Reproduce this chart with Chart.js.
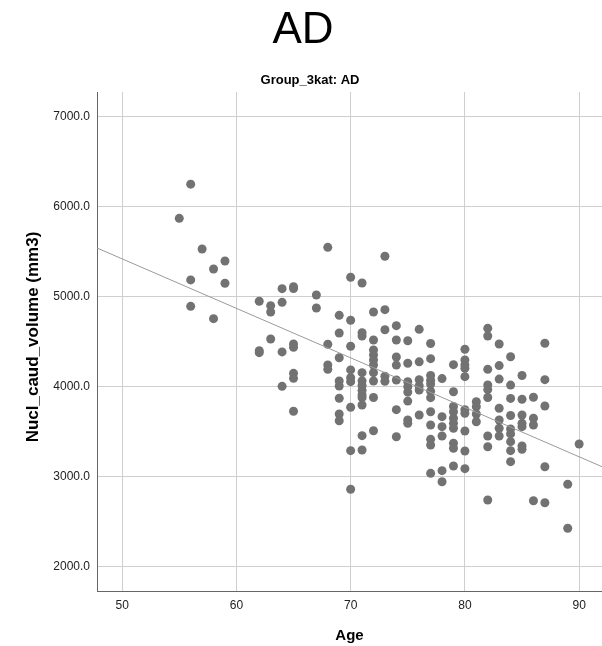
<!DOCTYPE html>
<html>
<head>
<meta charset="utf-8">
<script src="https://cdn.jsdelivr.net/npm/chart.js@4/dist/chart.umd.min.js"></script>
<style>
  html, body { margin: 0; padding: 0; background: #fff; }
  #wrap { position: relative; width: 602px; height: 646px; }
</style>
</head>
<body>
<div id="wrap"><canvas id="scatter"></canvas></div>
<script>
// ages (one entry per column of dots) and the volumes measured at each age
const ageGroups = [55, 56, 57, 58, 59, 62, 63, 64, 65, 67, 68, 69, 70, 71, 72, 73, 74, 75, 76, 77, 78, 79, 80, 81, 82, 83, 84, 85, 86, 87, 89, 90];
const volumeGroups = [
    [5870],
    [6250, 5186, 4893],
    [5530],
    [5308, 4756],
    [5397, 5149],
    [4949, 4400, 4378],
    [4900, 4830, 4530],
    [5089, 4937, 4386, 4004],
    [5110, 5090, 4474, 4437, 4148, 4093, 3727],
    [5019, 4874],
    [5548, 4471, 4241, 4193],
    [4793, 4597, 4322, 4063, 4008, 3871, 3697, 3622],
    [5216, 4738, 4449, 4186, 4100, 4056, 3771, 3289, 2860],
    [5152, 4600, 4563, 4156, 4065, 4013, 3958, 3908, 3878, 3797, 3456, 3297],
    [4830, 4519, 4408, 4352, 4297, 4241, 4156, 4063, 3880, 3511],
    [5449, 4856, 4633, 4116, 4060],
    [4678, 4519, 4330, 4240, 4074, 3745, 3444],
    [4510, 4260, 4056, 4000, 3940, 3840, 3630, 3593],
    [4637, 4276, 4078, 4010, 3963, 3686],
    [4480, 4311, 4125, 4072, 4030, 3950, 3878, 3722, 3574, 3415, 3352, 3037],
    [4090, 3667, 3556, 3452, 3067, 2944],
    [4245, 3944, 3780, 3722, 3649, 3593, 3538, 3371, 3316, 3119],
    [4416, 4297, 4241, 4204, 4111, 3745, 3704, 3508, 3286, 3089],
    [3833, 3778, 3697, 3611],
    [4648, 4563, 4193, 4020, 3968, 3880, 3452, 3333, 2741],
    [4474, 4234, 4084, 3760, 3630, 3538, 3452],
    [4333, 4018, 3870, 3680, 3530, 3475, 3389, 3289, 3167],
    [4124, 3860, 3686, 3593, 3556, 3341, 3304],
    [3882, 3649, 3574, 2733],
    [4482, 4078, 3785, 3111, 2711],
    [2916, 2427],
    [3363]
];

// linear fit line, ends at the axis limits
const fitAge = [47.8, 92.0];
const fitVolume = [5541, 3111];

const xTicks = [50, 60, 70, 80, 90];
const yTicks = [2000, 3000, 4000, 5000, 6000, 7000];

const points = [];
ageGroups.forEach((age, i) => {
    volumeGroups[i].forEach(v => points.push({ x: age, y: v }));
});
const fitPoints = fitAge.map((a, i) => ({ x: a, y: fitVolume[i] }));

const FONT = "'Liberation Sans', Arial, sans-serif";

// headings and axis titles
const textPlugin = {
    id: "labels",
    afterDraw(chart) {
        const ctx = chart.ctx;
        const area = chart.chartArea;
        ctx.save();
        ctx.fillStyle = "#000";
        ctx.textAlign = "center";
        ctx.textBaseline = "middle";

        ctx.font = "44px " + FONT;
        ctx.fillText("AD", 303, 31);

        ctx.font = "bold 13px " + FONT;
        ctx.fillText("Group_3kat: AD", 310, 80);

        ctx.font = "bold 15px " + FONT;
        ctx.fillText("Age", (area.left + area.right) / 2, 636);

        ctx.font = "bold 17px " + FONT;
        ctx.translate(33, 337);
        ctx.rotate(-Math.PI / 2);
        ctx.fillText("Nucl_caud_volume (mm3)", 0, 0);
        ctx.restore();
    }
};

new Chart(document.getElementById("scatter"), {
    type: "scatter",
    data: {
        datasets: [
            {
                type: "line",
                data: fitPoints,
                borderColor: "#9a9a9a",
                borderWidth: 1,
                pointRadius: 0,
                fill: false
            },
            {
                data: points,
                backgroundColor: "#727272",
                borderWidth: 0,
                pointRadius: 4.5,
                pointHoverRadius: 4.5
            }
        ]
    },
    options: {
        responsive: true,
        maintainAspectRatio: false,
        animation: false,
        events: [],
        layout: { autoPadding: false, padding: { top: 92, right: 0, left: 0, bottom: 0 } },
        scales: {
            x: {
                type: "linear",
                min: fitAge[0],
                max: fitAge[1],
                afterBuildTicks: (scale) => { scale.ticks = xTicks.map(v => ({ value: v })); },
                afterFit: (scale) => { scale.height = 55; },
                grid: { color: "#cfcfcf", lineWidth: 1, drawTicks: false },
                border: { color: "#666", width: 1 },
                ticks: {
                    padding: 7,
                    color: "#222",
                    font: { family: FONT, size: 12 }
                }
            },
            y: {
                type: "linear",
                min: 1730,
                max: 7274,
                afterBuildTicks: (scale) => { scale.ticks = yTicks.map(v => ({ value: v })); },
                afterFit: (scale) => { scale.width = 97; },
                grid: { color: "#cfcfcf", lineWidth: 1, drawTicks: false },
                border: { color: "#666", width: 1 },
                ticks: {
                    padding: 7,
                    color: "#222",
                    font: { family: FONT, size: 12 },
                    callback: (v) => v.toFixed(1)
                }
            }
        },
        plugins: {
            legend: { display: false },
            tooltip: { enabled: false },
            title: { display: false }
        }
    },
    plugins: [textPlugin]
});
</script>
</body>
</html>
